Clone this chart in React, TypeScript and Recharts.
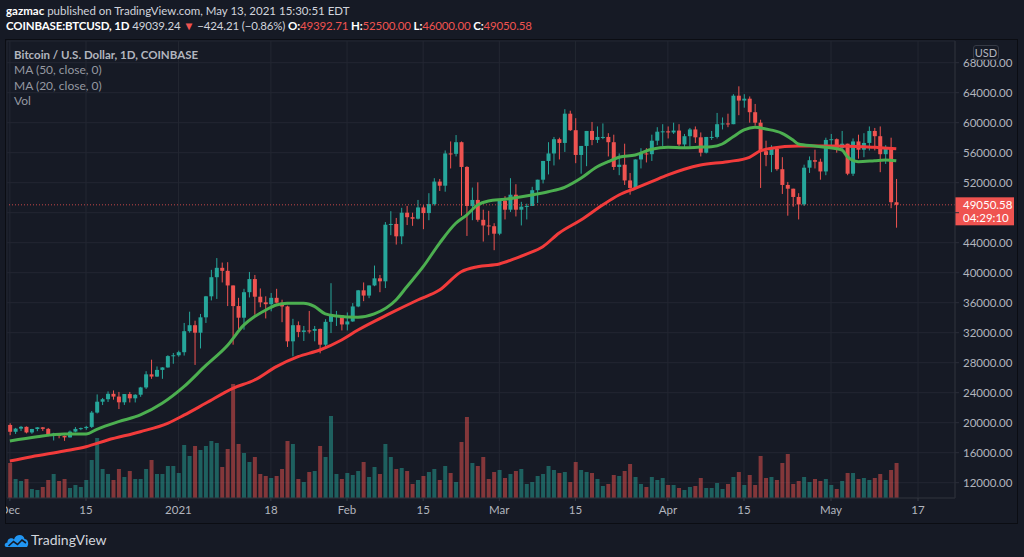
import {
  Bar,
  CartesianGrid,
  Cell,
  ComposedChart,
  Line,
  ReferenceLine,
  XAxis,
  YAxis,
} from 'recharts';

const BG = '#161a25';
const UP = '#26a69a';
const DOWN = '#ef5350';

// daily candles, 1 Dec 2020 .. 13 May 2021 (one row per month)
const opens = [
  19700, 18790, 19210, 19450, 18700, 19160, 19380, 19180, 18330, 18560, 18250, 18040, 18810, 19170, 19280, 19440, 21350, 22800, 23130, 23850, 23480, 22720, 23820, 23250, 23730, 24700, 26450, 26150, 27040, 27370, 28880,
  28990, 29400, 32200, 33000, 32000, 34050, 36850, 39400, 40650, 40250, 38300, 35550, 34000, 37400, 39150, 36800, 36050, 35800, 36650, 36000, 35500, 30850, 33000, 32100, 32300, 32250, 32500, 30400, 33450, 34300, 34300,
  33100, 33500, 35500, 37650, 36950, 38300, 39250, 38850, 46400, 46500, 44850, 48000, 47400, 47200, 48700, 47950, 49150, 52150, 51600, 55900, 55850, 57400, 54100, 48900, 49700, 47050, 46300, 46200,
  45200, 49600, 48400, 50400, 48400, 48800, 48900, 51000, 52400, 54900, 55900, 57800, 57300, 61200, 59000, 55700, 56900, 58900, 57700, 58100, 58100, 57400, 54100, 54400, 52300, 51300, 55100, 55900, 55800, 57600, 58800,
  58850, 58700, 58950, 57100, 58200, 59100, 58050, 56000, 58100, 58100, 59800, 59900, 59800, 63600, 62950, 63200, 61400, 60000, 56200, 55700, 56500, 53800, 51700, 51200, 50100, 49100, 54000, 55000, 54800, 53500,
  57700, 57800, 56600, 57200, 53200, 57500, 56400, 57300, 58900, 58200, 55800, 56700, 49392.71,
];
const highs = [
  19920, 19310, 19570, 19500, 19180, 19420, 19420, 19300, 18650, 18570, 18290, 18950, 19420, 19350, 19580, 21560, 23770, 23300, 24170, 24300, 24100, 23820, 24100, 23800, 24780, 26870, 28400, 27500, 27400, 28990, 29300,
  29600, 33300, 34800, 33600, 34500, 36900, 40380, 41950, 41350, 41400, 38300, 36650, 37850, 40100, 39700, 37900, 36850, 37300, 37850, 36400, 35600, 33850, 33500, 32900, 34900, 32900, 32550, 33800, 38600, 34900, 34350,
  34700, 35950, 37700, 38700, 38300, 40950, 39700, 46750, 48200, 47300, 48650, 48900, 48000, 49700, 49000, 50600, 52600, 52500, 56300, 57500, 58350, 57500, 54200, 51350, 52050, 48400, 48250, 46600,
  49800, 50200, 52600, 51800, 49450, 49200, 51450, 52400, 54900, 57400, 58100, 58000, 61800, 61600, 60600, 56900, 58900, 60100, 59500, 59900, 58600, 58400, 55900, 57200, 53300, 55100, 56600, 56600, 58400, 59400, 59800,
  59500, 60000, 59800, 58500, 59300, 59500, 58700, 58100, 58900, 61300, 60700, 61200, 63800, 64850, 63800, 63500, 62500, 60400, 57600, 57000, 56800, 55400, 52100, 51200, 50600, 54400, 55500, 56400, 55200, 58000,
  58500, 57900, 58900, 57200, 57900, 58400, 58600, 59500, 59300, 59500, 57000, 58000, 52500,
];
const lows = [
  18330, 18500, 18900, 18580, 18530, 18870, 18900, 18200, 17630, 17920, 17580, 18020, 18720, 19000, 19050, 19300, 21230, 22350, 22760, 23070, 21820, 22370, 22700, 22700, 23450, 24500, 25850, 26100, 25850, 27330, 27860,
  28800, 28950, 32000, 27700, 29900, 33300, 36300, 36500, 38700, 35550, 30400, 32500, 32400, 36700, 34400, 35400, 33900, 34850, 35900, 33400, 30100, 28850, 31400, 30900, 31900, 30850, 29250, 30000, 31950, 32900, 32300,
  32300, 33450, 35400, 36200, 36600, 38200, 37400, 37950, 45000, 43750, 43800, 46350, 46250, 47100, 45800, 47000, 48950, 50900, 50800, 53900, 55500, 47600, 44900, 47000, 46800, 44150, 45000, 43000,
  45000, 47100, 48100, 47500, 46300, 47100, 48900, 49300, 51900, 53100, 54300, 55100, 56100, 58900, 54600, 53200, 54200, 57000, 57300, 57800, 55500, 53700, 53000, 51700, 50400, 51300, 53900, 54700, 54900, 57000, 56900,
  57900, 58500, 56900, 56500, 56800, 57300, 55500, 55900, 57700, 57900, 59100, 59400, 59800, 61000, 62000, 60000, 59600, 51300, 54200, 53400, 53600, 50500, 47600, 48800, 47100, 48900, 53300, 53900, 52400, 53000,
  57000, 56000, 56500, 53000, 52900, 55200, 55400, 56300, 56300, 53400, 54500, 48600, 46000,
];
const closes = [
  18790, 19210, 19450, 18700, 19160, 19380, 19180, 18330, 18560, 18250, 18040, 18810, 19170, 19280, 19440, 21350, 22800, 23130, 23850, 23480, 22720, 23820, 23250, 23730, 24700, 26450, 26150, 27040, 27370, 28880, 28990,
  29400, 32200, 33000, 32000, 34050, 36850, 39400, 40650, 40250, 38300, 35550, 34000, 37400, 39150, 36800, 36050, 35800, 36650, 36000, 35500, 30850, 33000, 32100, 32300, 32250, 32500, 30400, 33450, 34300, 34300, 33100,
  33500, 35500, 37650, 36950, 38300, 39250, 38850, 46400, 46500, 44850, 48000, 47400, 47200, 48700, 47950, 49150, 52150, 51600, 55900, 55850, 57400, 54100, 48900, 49700, 47050, 46300, 46200, 45200,
  49600, 48400, 50400, 48400, 48800, 48900, 51000, 52400, 54900, 55900, 57800, 57300, 61200, 59000, 55700, 56900, 58900, 57700, 58100, 58100, 57400, 54100, 54400, 52300, 51300, 55100, 55900, 55800, 57600, 58800, 58850,
  58700, 58950, 57100, 58200, 59100, 58050, 56000, 58100, 58100, 59800, 59900, 59800, 63600, 62950, 63200, 61400, 60000, 56200, 55700, 56500, 53800, 51700, 51200, 50100, 49100, 54000, 55000, 54800, 53500, 57700,
  57800, 56600, 57200, 53200, 57500, 56400, 57300, 58900, 58200, 55800, 56700, 49400, 49050.58,
];
// volume, thousand BTC
const volumes = [
  35, 19, 17, 19, 9, 8, 11, 18, 24, 17, 19, 10, 13, 11, 18, 38, 60, 29, 24, 18, 29, 21, 27, 19, 19, 29, 38, 24, 24, 32, 32,
  25, 53, 42, 52, 48, 52, 57, 55, 31, 49, 114, 54, 45, 36, 41, 24, 22, 20, 22, 29, 57, 54, 19, 16, 26, 27, 52, 41, 82, 24, 19,
  25, 23, 27, 36, 21, 31, 24, 54, 41, 29, 30, 27, 14, 18, 22, 26, 29, 18, 32, 25, 16, 56, 81, 35, 32, 41, 19, 26,
  28, 20, 24, 27, 29, 14, 16, 22, 24, 32, 28, 25, 26, 16, 36, 28, 26, 25, 19, 12, 14, 23, 22, 27, 34, 21, 14, 11, 21, 18, 20,
  13, 13, 10, 8, 11, 12, 20, 10, 10, 15, 9, 14, 21, 26, 13, 23, 13, 42, 20, 21, 18, 35, 44, 14, 17, 21, 16, 19, 17, 19,
  13, 9, 17, 25, 25, 19, 20, 18, 20, 24, 18, 28, 35,
];

// moving averages: [day index, value]
const ma20Points: [number, number][] = [
  [0, 17560], [5, 18130], [10, 18490], [14, 18490], [16, 19120], [20, 20140], [24, 21030], [28, 22580],
  [32, 24800], [36, 27600], [40, 30300], [43, 33000], [45, 34150], [47, 35000], [49, 35700], [51, 35920],
  [54, 35920], [56, 35500], [58, 34500], [60, 34230], [64, 34050], [67, 34500], [71, 36360], [73, 38130],
  [76, 40800], [79, 43920], [82, 46590], [84, 47690], [86, 49030], [88, 49560], [91, 49790], [93, 50000],
  [96, 50360], [99, 50800], [102, 51390], [105, 52590], [108, 54130], [110, 54800], [112, 55390], [115, 55690],
  [118, 56450], [121, 56720], [124, 56650], [127, 56750], [129, 56800], [131, 57160], [133, 58130], [135, 59030],
  [137, 59390], [139, 59160], [142, 58590], [144, 57690], [145, 57160], [148, 56890], [150, 56720], [153, 56360],
  [154, 55470], [156, 54800], [159, 54930], [161, 55030], [163, 54930],
];
const ma50Points: [number, number][] = [
  [0, 14890], [4, 15470], [10, 16230], [14, 16800], [18, 17690], [24, 18800], [29, 19920], [32, 21000],
  [36, 22590], [41, 24590], [45, 25690], [49, 27470], [53, 28800], [57, 29690], [61, 31030], [64, 32360],
  [70, 34600], [75, 36360], [79, 37690], [83, 40130], [86, 40800], [90, 41160], [93, 41920], [95, 42490],
  [98, 43470], [101, 45300], [105, 47030], [109, 49030], [112, 50360], [115, 51250], [118, 52130], [121, 53030],
  [124, 53790], [127, 54360], [132, 54800], [136, 55390], [138, 56230], [140, 56590], [145, 56890], [151, 56890],
  [157, 56800], [160, 56670], [163, 56530],
];

const timeTicks = [0, 14, 31, 48, 62, 76, 90, 104, 121, 135, 151, 167];
const timeLabels = ['Dec', '15', '2021', '18', 'Feb', '15', 'Mar', '15', 'Apr', '15', 'May', '17'];
const priceTicks = [12000, 16000, 20000, 24000, 28000, 32000, 36000, 40000, 44000, 48000, 52000, 56000, 60000, 64000, 68000];
const lastPrice = 49050.58;
const countdown = '04:29:10';

const X_DOMAIN: [number, number] = [-0.53, 173.8];
const Y_DOMAIN: [number, number] = [9960, 70893];

const ma20 = new Map(ma20Points);
const ma50 = new Map(ma50Points);
const rows = closes.map((c, i) => ({
  i,
  o: opens[i],
  h: highs[i],
  l: lows[i],
  c,
  v: volumes[i],
  ma20: ma20.get(i) ?? null,
  ma50: ma50.get(i) ?? null,
}));

function Candle(props: any) {
  const { x, y, width, height, payload } = props;
  const { o, h, l, c } = payload;
  const color = c >= o ? UP : DOWN;
  const top = Math.min(y, y + height);
  const hgt = Math.abs(height);
  const py = (p: number) => top + ((h - p) / (h - l || 1)) * hgt;
  const b1 = py(Math.max(o, c));
  const b2 = py(Math.min(o, c));
  const cx = x + width / 2;
  return (
    <g>
      <line x1={cx} x2={cx} y1={top} y2={top + hgt} stroke={color} strokeWidth={1} />
      <rect x={x} y={b1} width={width} height={Math.max(1, b2 - b1)} fill={color} />
    </g>
  );
}

function PriceTag(props: any) {
  const { viewBox } = props;
  if (!viewBox) return null;
  const x = viewBox.x + viewBox.width;
  const y = viewBox.y;
  return (
    <g>
      <rect x={x} y={y - 7.5} width={59} height={28} fill={DOWN} />
      <text x={x + 8} y={y + 4} fill="#fff" fontSize={11.5}>{lastPrice.toFixed(2)}</text>
      <text x={x + 8} y={y + 17} fill="#fff" fontSize={11.5}>{countdown}</text>
    </g>
  );
}

function Logo() {
  return (
    <svg width={26} height={16} viewBox="0 0 26 16" style={{ position: 'absolute', left: 4, top: 532 }}>
      <path d="M2.5 15 C0 15 0 10.5 3.5 10.5 C3 6.5 8 5 10 7.5 C11.5 2 19.5 1.5 20.5 7 C24 7 25.5 12 23 15 Z" fill="#2196f3" />
      <path d="M4.5 14 L9.5 9.5 L13.5 12.5 L18 8 L22 11" stroke={BG} strokeWidth={1.6} fill="none" />
    </svg>
  );
}

// the last-price tag sits over the axis label it would collide with
const priceLabel = (v: number) => (Math.abs(v - lastPrice) < 2000 ? '' : v.toFixed(2));

export default function App() {
  const text = { fontFamily: 'Lato, "Noto Sans", sans-serif' };
  return (
    <div style={{ position: 'absolute', left: 0, top: 0, width: 1024, height: 557, background: BG, overflow: 'hidden', ...text }}>
      <ComposedChart width={1024} height={557} data={rows} margin={{ top: 41, right: 0, bottom: 34, left: 7 }}>
        <CartesianGrid stroke="#232732" />
        <XAxis
          dataKey="i"
          type="number"
          domain={X_DOMAIN}
          allowDataOverflow
          ticks={timeTicks}
          interval={0}
          tickFormatter={(v: number) => timeLabels[timeTicks.indexOf(v)] ?? ''}
          tick={{ fill: '#b2b5be', fontSize: 11.5 }}
          tickLine={{ stroke: '#363a45' }}
          axisLine={{ stroke: '#2a2e39' }}
          tickSize={3}
          tickMargin={5}
          height={25}
        />
        <XAxis xAxisId="vx" dataKey="i" type="number" domain={X_DOMAIN} allowDataOverflow hide />
        <YAxis
          orientation="right"
          type="number"
          domain={Y_DOMAIN}
          allowDataOverflow
          ticks={priceTicks}
          interval={0}
          tickFormatter={priceLabel}
          tick={{ fill: '#b2b5be', fontSize: 11.5, textAnchor: 'start' }}
          tickLine={{ stroke: '#2a2e39' }}
          axisLine={{ stroke: '#2a2e39' }}
          tickSize={4}
          tickMargin={4}
          width={69}
        />
        <YAxis yAxisId="vy" domain={[0, 457]} allowDataOverflow hide />
        <Bar xAxisId="vx" yAxisId="vy" dataKey="v" barSize={4} isAnimationActive={false}>
          {rows.map((r) => (
            <Cell key={r.i} fill={r.c >= r.o ? UP : DOWN} fillOpacity={0.5} />
          ))}
        </Bar>
        <ReferenceLine y={lastPrice} stroke={DOWN} strokeOpacity={0.8} strokeDasharray="1 2" label={<PriceTag />} />
        <Bar dataKey={(d: any) => [d.l, d.h]} barSize={4} shape={(p: any) => <Candle {...p} />} isAnimationActive={false} />
        <Line dataKey="ma50" type="monotone" stroke="#f23b3b" strokeWidth={3} dot={false} connectNulls isAnimationActive={false} />
        <Line dataKey="ma20" type="monotone" stroke="#4caf50" strokeWidth={3} dot={false} connectNulls isAnimationActive={false} />
      </ComposedChart>

      {/* frame */}
      <div style={{ position: 'absolute', left: 0, top: 40, width: 6, height: 484, background: BG }} />
      <div style={{ position: 'absolute', left: 5, top: 39, width: 1011, height: 483, border: '1.5px solid #0b0d13', pointerEvents: 'none' }} />
      <div style={{ position: 'absolute', left: 973, top: 45, width: 24, height: 13, border: '1px solid #363a45', borderRadius: 3, background: BG, color: '#b2b5be', fontSize: 11, lineHeight: '13px', textAlign: 'center' }}>
        USD
      </div>

      {/* header */}
      <div style={{ position: 'absolute', left: 6, top: 4, fontSize: 11.5, color: '#d1d4dc', whiteSpace: 'nowrap' }}>
        <b style={{ color: '#fff' }}>gazmac</b> published on TradingView.com, May 13, 2021 15:30:51 EDT
      </div>
      <div style={{ position: 'absolute', left: 6, top: 19, fontSize: 11.5, letterSpacing: -0.15, color: '#d1d4dc', whiteSpace: 'nowrap' }}>
        <b style={{ color: '#fff' }}>COINBASE:BTCUSD, 1D</b> 49039.24 <span style={{ color: DOWN }}>▼</span> −424.21 (−0.86%){' '}
        <b style={{ color: '#fff' }}>O:</b><span style={{ color: DOWN }}>49392.71</span>{' '}
        <b style={{ color: '#fff' }}>H:</b><span style={{ color: DOWN }}>52500.00</span>{' '}
        <b style={{ color: '#fff' }}>L:</b><span style={{ color: DOWN }}>46000.00</span>{' '}
        <b style={{ color: '#fff' }}>C:</b><span style={{ color: DOWN }}>49050.58</span>
      </div>

      {/* legend */}
      <div style={{ position: 'absolute', left: 14, top: 47, fontSize: 12, lineHeight: '15.3px', color: '#9598a1', whiteSpace: 'nowrap' }}>
        <div style={{ color: '#b2b5be', fontWeight: 700, fontSize: 11.5 }}>Bitcoin / U.S. Dollar, 1D, COINBASE</div>
        <div>MA (50, close, 0)</div>
        <div>MA (20, close, 0)</div>
        <div>Vol</div>
      </div>

      {/* footer */}
      <Logo />
      <div style={{ position: 'absolute', left: 31, top: 531, fontSize: 14, color: '#d1d4dc' }}>TradingView</div>
    </div>
  );
}
